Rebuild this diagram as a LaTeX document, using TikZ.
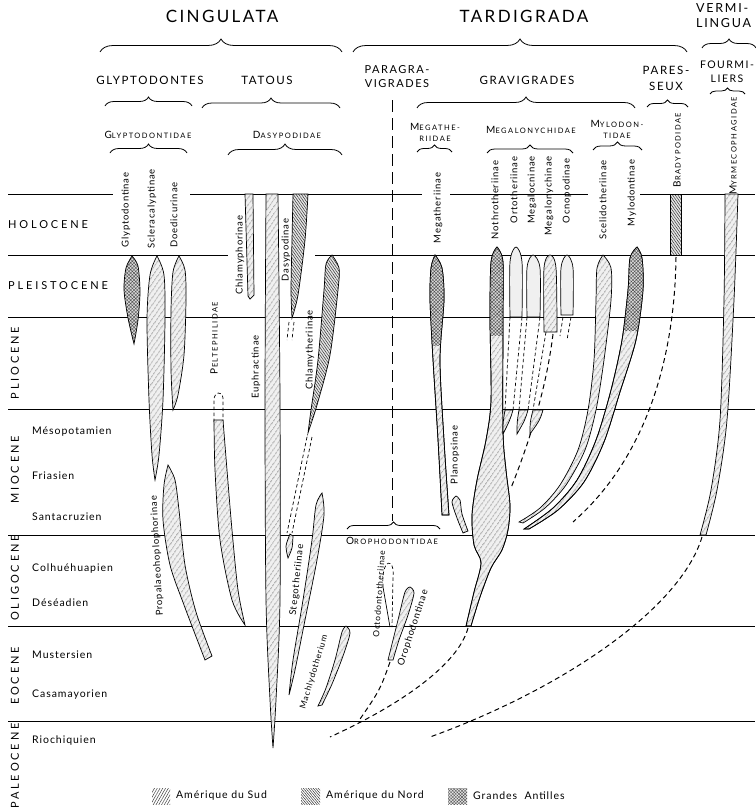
\documentclass[tikz,border=0pt]{standalone}
\usepackage{fontspec}
\setmainfont{Lato}
\newfontfamily\labf[LetterSpace=9]{Lato}
\newfontfamily\hcapf[LetterSpace=14]{Lato}
\newfontfamily\wcapf[LetterSpace=26]{Lato}
\newfontfamily\scf[LetterSpace=20]{Lato}
\usetikzlibrary{patterns.meta,decorations.pathreplacing}
\newcommand\fs[2]{\fontsize{#1}{#2}\selectfont}
\newcommand\msc[2]{{\fs{10}{11}#1}{\fs{7.5}{11}#2}}
\tikzset{
 era/.style={line width=0.7pt},
 sa/.style={draw, line width=0.7pt, preaction={fill=black!6}, pattern={Lines[angle=55,distance=4pt,line width=0.5pt]}, pattern color=black!75},
 na/.style={draw, line width=0.7pt, preaction={fill=black!10}, pattern={Lines[angle=-55,distance=2.2pt,line width=0.5pt]}, pattern color=black!80},
 gaf/.style={pattern={Hatch[angle=45,distance=2.4pt,line width=0.4pt]}, pattern color=black!70},
 ga/.style={draw, line width=0.7pt, preaction={fill=black!15}, gaf},
 pl/.style={draw, line width=0.7pt, fill=black!6},
 outl/.style={draw, line width=0.7pt},
 dl/.style={line width=1pt, dash pattern=on 5pt off 3.5pt},
 tdl/.style={line width=0.7pt, dash pattern=on 3.5pt off 2.5pt},
 brc/.style={decorate, decoration={brace, amplitude=#1}, line width=0.8pt},
 vl/.style={rotate=90, inner sep=1pt, font={\labf\fs{9.5}{11}}},
 stage/.style={anchor=west, inner sep=0pt, font={\labf\fs{10.5}{12}}},
 epoch/.style={inner sep=0pt, font={\wcapf\fs{11}{12}}},
}
\newcommand\shpMegath[1]{\path[#1] plot[smooth] coordinates {(435,255) (431,268) (430,300) (433,360) (438,440) (442,515)} -- plot[smooth] coordinates {(449,515) (444,440) (440,360) (444,300) (442,268) (435,255)} -- cycle;}
\newcommand\shpNothro[1]{\path[#1] plot[smooth] coordinates {(497,247) (491,262) (490,320) (491,400) (486,440) (477,480) (472,515) (474,545) (481,563) (474,592) (466,626)} -- plot[smooth] coordinates {(471,626) (480,597) (491,568) (502,550) (508,530) (510,505) (506,470) (503,430) (503,320) (503,262) (497,247)} -- cycle;}
\newcommand\shpMylo[1]{\path[#1] plot[smooth] coordinates {(637,247) (630,258) (628,290) (622,340) (611,390) (596,440) (577,480) (553,508) (524,529)} -- plot[smooth] coordinates {(529,529) (558,510) (584,482) (604,442) (620,392) (636,340) (643,290) (642,258) (637,247)} -- cycle;}
\begin{document}
\begin{tikzpicture}[x=1pt,y=-1pt]
\useasboundingbox (0,0) rectangle (755,811);

% time lines
\draw[era] (8,194) -- (113,194) (190,194) -- (422,194) (450,194) -- (588,194) (640,194) -- (755,194);
\draw[era] (8,255) -- (228,255) (315,255) -- (755,255);
\foreach \yy in {317,409,535,626,721} \draw[era] (8,\yy) -- (755,\yy);

% headers
\node[font={\hcapf\fs{17}{19}}] (cing) at (222,16) {CINGULATA};
\node[font={\hcapf\fs{17}{19}}] (tard) at (524,16) {TARDIGRADA};
\node[font={\hcapf\fs{12.5}{15}}, align=left, anchor=north west, inner sep=0pt] (verm) at (696,3) {VERMI-\\LINGUA};
\node[font={\hcapf\fs{11.5}{13}}] (glyp) at (150,80) {GLYPTODONTES};
\node[font={\hcapf\fs{11.5}{13}}] (tato) at (267,80) {TATOUS};
\node[font={\hcapf\fs{11}{14}}, align=center] (parag) at (397,77) {PARAGRA-\\VIGRADES};
\node[font={\hcapf\fs{11.5}{13}}] (grav) at (527,80) {GRAVIGRADES};
\node[font={\hcapf\fs{11.5}{16}}, align=center] (pares) at (666,78) {PARES-\\SEUX};
\node[font={\hcapf\fs{10.5}{14}}, align=center, inner sep=1pt] (fourm) at (727,72) {FOURMI-\\LIERS};

\node[font=\scf] (glyd) at (148,135) {\msc{G}{LYPTODONTIDAE}};
\node[font=\scf] (dasd) at (287,135) {\msc{D}{ASYPODIDAE}};
\node[font=\scf, align=center] (megd) at (435,132) {\msc{M}{EGATHE-}\\[-1pt]{\fs{7.5}{9}RIIDAE}};
\node[font=\scf] (mgld) at (531,130) {\msc{M}{EGALONYCHIDAE}};
\node[font=\scf, align=center] (myld) at (617,129) {\msc{M}{YLODON-}\\[-1pt]{\fs{7.5}{9}TIDAE}};
\node[font=\scf] (orod) at (392,541) {\msc{O}{ROPHODONTIDAE}};
\node[font=\scf, rotate=90] (pelt) at (214,338) {\msc{P}{ELTEPHILIDAE}};
\node[font=\scf, rotate=90] (brad) at (677,150) {\msc{B}{RADYPODIDAE}};
\node[font=\scf, rotate=90] (myrm) at (733,146) {\msc{M}{YRMECOPHAGIDAE}};

% braces
\draw[brc=13pt] (100,52) -- (342,52);
\draw[brc=13pt] (353,52) -- (687,52);
\draw[brc=9pt] (702,48) -- (756,48);
\draw[brc=9pt] (105,106) -- (192,106);
\draw[brc=10pt] (202,108) -- (340,108);
\draw[brc=11pt] (417,108) -- (635,108);
\draw[brc=7pt] (647,107) -- (688,107);
\draw[brc=6pt] (710,94) -- (745,94);
\draw[brc=9pt] (110,153) -- (187,153);
\draw[brc=11pt] (228,155) -- (342,155);
\draw[brc=7pt] (417,152) -- (452,152);
\draw[brc=8pt] (487,153) -- (573,153);
\draw[brc=8pt] (593,150) -- (642,150);
\draw[brc=7pt] (347,529) -- (440,529);

% epochs and stages
\node[epoch, anchor=west] (holo) at (8,225) {HOLOCENE};
\node[epoch, anchor=west] (plei) at (8,286) {PLEISTOCENE};
\node[epoch, rotate=90] (plio) at (15,363) {PLIOCENE};
\node[epoch, rotate=90] (mioc) at (15,470) {MIOCENE};
\node[epoch, rotate=90] (olig) at (15,578) {OLIGOCENE};
\node[epoch, rotate=90] (eoce) at (15,676) {EOCENE};
\node[epoch, rotate=90] (pale) at (15,766) {PALEOCENE};
\node[stage] (s1) at (32,432) {Mésopotamien};
\node[stage] (s2) at (32,476) {Friasien};
\node[stage] (s3) at (32,517) {Santacruzien};
\node[stage] (s4) at (32,569) {Colhuéhuapien};
\node[stage] (s5) at (32,603) {Déséadien};
\node[stage] (s6) at (32,655) {Mustersien};
\node[stage] (s7) at (32,695) {Casamayorien};
\node[stage] (s8) at (32,741) {Riochiquien};

% dashed vertical separator
\draw[line width=0.6pt, dash pattern=on 12pt off 6pt] (392,100) -- (392,521);

% ---- CINGULATA spindles
\path[ga] plot[smooth] coordinates {(132,256) (126,268) (124,290) (128,318) (134,344)} -- plot[smooth] coordinates {(134,344) (138,320) (140,292) (138,266) (132,256)} -- cycle;
\path[sa] plot[smooth] coordinates {(157,256) (150,275) (147,320) (149,400) (152,455) (155,480)} -- plot[smooth] coordinates {(155,480) (159,455) (163,400) (165,320) (164,275) (157,256)} -- cycle;
\path[sa] plot[smooth] coordinates {(179,256) (173,272) (171,310) (171,370) (173,410)} -- plot[smooth] coordinates {(173,410) (178,395) (184,355) (186,300) (185,270) (179,256)} -- cycle;
\path[sa] (245,194) -- (253,194) -- (254,295) -- (250,299) -- (248,296) -- cycle;
\path[sa] plot[smooth] coordinates {(266,194) (265,400) (266,600) (270,700) (273,748)} -- plot[smooth] coordinates {(273,748) (276,700) (280,600) (280,400) (278,194)} -- cycle;
\path[na] plot[smooth] coordinates {(293,194) (292,240) (291,290) (292,318)} -- plot[smooth] coordinates {(292,318) (298,295) (305,240) (308,194)} -- cycle;
\draw[tdl] (289,322) -- (287,340) (294,322) -- (292,340);
\path[na] plot[smooth] coordinates {(332,255) (326,264) (324,290) (318,360) (311,410) (308,433)} -- plot[smooth] coordinates {(308,433) (317,405) (330,355) (338,290) (339,268) (332,255)} -- cycle;
\draw[tdl] (307,437) -- (287,533) (312,437) -- (292,533);
\path[sa] plot[smooth] coordinates {(290,534) (286,546) (288,558)} -- plot[smooth] coordinates {(288,558) (292,548) (293,536)} -- cycle;
\draw[tdl] (214,422) -- (214,400) .. controls (214,392) and (222,390) .. (223,398) -- (223,422);
\path[sa] plot[smooth] coordinates {(214,420) (215,470) (220,540) (232,600) (245,625)} -- plot[smooth] coordinates {(245,625) (238,590) (232,530) (227,470) (223,420)} -- cycle;
\path[sa] plot[smooth] coordinates {(168,465) (164,485) (163,520) (170,565) (184,605) (205,660)} -- plot[smooth] coordinates {(212,656) (196,612) (185,565) (179,510) (175,480) (168,465)} -- cycle;
\path[sa] plot[smooth] coordinates {(322,493) (316,505) (312,540) (303,600) (293,660) (289,695)} -- plot[smooth] coordinates {(289,695) (295,670) (305,620) (317,560) (324,515) (322,493)} -- cycle;
\path[sa] plot[smooth] coordinates {(346,626) (342,632) (335,660) (326,688) (318,706)} -- plot[smooth] coordinates {(322,705) (332,684) (343,656) (350,633) (346,626)} -- cycle;

% ---- TARDIGRADA spindles
\shpMegath{sa}
\begin{scope}\shpMegath{clip}\path[preaction={fill=black!15}, gaf] (420,240) rectangle (460,345);\end{scope}
\shpMegath{outl}
\path[sa] plot[smooth] coordinates {(456,496) (452,502) (457,518) (463,533)} -- plot[smooth] coordinates {(468,531) (462,514) (460,500) (456,496)} -- cycle;
\shpNothro{sa}
\begin{scope}\shpNothro{clip}\path[preaction={fill=black!15}, gaf] (480,240) rectangle (515,335);\end{scope}
\shpNothro{outl}
\draw[dl] (468,628) .. controls (458,665) and (400,705) .. (330,737);

\path[pl] plot[smooth] coordinates {(510,317) (510,262) (516,247) (522,262) (522,317)} -- cycle;
\path[pl] plot[smooth] coordinates {(527,317) (527,268) (533,255) (540,268) (540,317)} -- cycle;
\path[sa] plot[smooth] coordinates {(544,332) (544,268) (550,255) (556,268) (557,332)} -- cycle;
\path[pl] plot[smooth] coordinates {(561,315) (561,268) (567,255) (573,268) (573,315)} -- cycle;
\draw[tdl] (510,317) -- (505,410) (522,317) -- (513,410) (527,317) -- (519,410) (540,317) -- (528,410) (546,332) -- (533,410) (563,317) -- (560,336) (571,317) -- (567,340);
\draw[dl] (553,334) .. controls (545,400) and (522,460) .. (511,488);
\path[sa] (505,410) -- (513,410) .. controls (510,420) .. (503,434) .. controls (503,422) .. cycle;
\path[sa] (519,410) -- (528,410) .. controls (525,420) .. (517,434) .. controls (517,422) .. cycle;
\path[sa] (533,410) -- (543,410) .. controls (540,420) .. (530,434) .. controls (530,422) .. cycle;

\path[sa] plot[smooth] coordinates {(603,255) (597,268) (596,300) (594,360) (588,410) (578,450) (560,485) (540,508) (519,522)} -- plot[smooth] coordinates {(523,523) (545,508) (566,485) (585,450) (596,410) (604,360) (611,300) (611,268) (603,255)} -- cycle;
\shpMylo{sa}
\begin{scope}\shpMylo{clip}\path[preaction={fill=black!15}, gaf] (600,240) rectangle (650,330);\end{scope}
\shpMylo{outl}

\path[na] (670,194) rectangle (681,255);
\draw[dl] (676,257) .. controls (675,340) and (655,450) .. (573,522);
\path[sa] plot[smooth] coordinates {(725,194) (724,300) (720,420) (711,490) (700,535)} -- plot[smooth] coordinates {(706,535) (717,490) (727,420) (734,300) (738,194)} -- cycle;
\draw[dl] (702,537) .. controls (680,610) and (560,690) .. (430,737);

% Orophodontidae
\draw[tdl] (383,587) .. controls (381,557) and (395,557) .. (393,577) -- (392,627);
\draw[line width=0.7pt] (383,587) -- (390,627);
\path[sa] plot[smooth] coordinates {(410,587) (405,592) (398,620) (391,648) (388,660)} -- plot[smooth] coordinates {(393,660) (399,640) (408,615) (414,593) (410,587)} -- cycle;
\draw[dl] (390,662) .. controls (380,690) .. (358,722);

% vertical labels
\node[vl] (l1) at (126,210) {Glyptodontinae};
\node[vl] (l2) at (152,209) {Scleracalyptinae};
\node[vl] (l3) at (174,215) {Doedicurinae};
\node[vl] (l4) at (240,255) {Chlamyphorinae};
\node[vl] (l5) at (286,250) {Dasypodinae};
\node[vl] (l6) at (256,367) {Euphractinae};
\node[vl] (l7) at (310,350) {Chlamytheriinae};
\node[vl] (l8) at (438,208) {Megatheriinae};
\node[vl] (l9) at (495,200) {Nothrotheriinae};
\node[vl] (l10) at (514,190) {Ortotheriinae};
\node[vl] (l11) at (532,190) {Megalocninae};
\node[vl] (l12) at (549,196) {Megalonychinae};
\node[vl] (l13) at (567,191) {Ocnopodinae};
\node[vl] (l14) at (603,200) {Scelidotheriinae};
\node[vl] (l15) at (632,193) {Mylodontinae};
\node[vl] (l16) at (455,455) {Planopsinae};
\node[vl, rotate=3] (l17) at (157,556) {Propalaeohoplophorinae};
\node[vl, rotate=-6] (l18) at (297,580) {Stegotheriinae};
\node[vl, rotate=-17, font={\labf\fs{8.5}{10}}] (l19) at (314,672) {Machlydotherium};
\node[vl, rotate=-4, font={\labf\fs{8.5}{10}}] (l20) at (379,594) {Octodontotheriinae};
\node[vl, rotate=-18] (l21) at (413,628) {Orophodontinae};

% legend
\path[pattern={Lines[angle=60,distance=2.4pt,line width=0.5pt]}, pattern color=black!75] (152,788) rectangle (170,804);
\node[stage] (lg1) at (176,796) {Amérique du Sud};
\path[pattern={Lines[angle=-50,distance=1.9pt,line width=0.5pt]}, pattern color=black!80] (301,788) rectangle (320,804);
\node[stage] (lg2) at (326,796) {Amérique du Nord};
\path[preaction={fill=black!10}, pattern={Hatch[angle=45,distance=2.2pt,line width=0.4pt]}, pattern color=black!65] (448,788) rectangle (467,804);
\node[stage] (lg3) at (473,796) {Grandes\ \ Antilles};
\end{tikzpicture}
\end{document}
